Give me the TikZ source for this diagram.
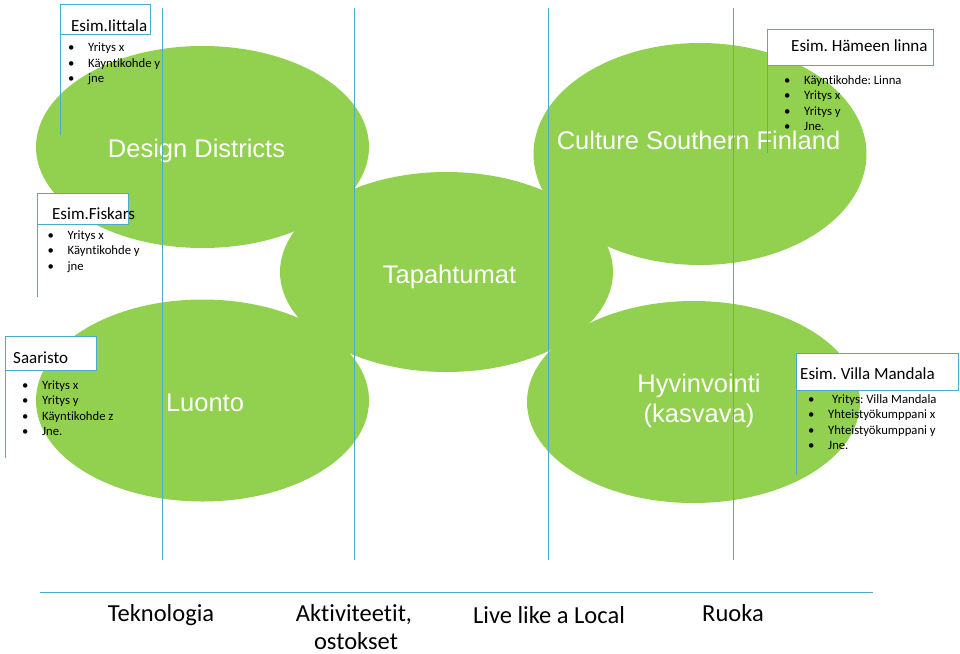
\documentclass[tikz,border=0pt]{standalone}
\usepackage{fontspec}
\setmainfont{Carlito}[Ligatures=NoCommon]
\newfontfamily\arialf{Liberation Sans}
\usetikzlibrary{shapes.geometric}
\definecolor{leaf}{RGB}{146,208,80}
\definecolor{guide}{RGB}{75,172,198}
\newcommand\bulletlist[1]{\begin{tabular}[t]{@{}p{20pt}@{}l@{}}#1\end{tabular}}
\frenchspacing
\begin{document}
\begin{tikzpicture}[x=1pt,y=-1pt,
  blob/.style={ellipse,fill=leaf,inner sep=0,minimum width=333pt,minimum height=202pt},
  blobtext/.style={anchor=base,text=white,font=\arialf\fontsize{25.5}{30}\selectfont,inner sep=0},
  guideline/.style={draw=guide,line width=1pt},
  titlebox/.style={draw=guide,line width=1pt,fill=white,anchor=north west,inner sep=0},
  titletext/.style={anchor=base west,inner sep=0,font=\fontsize{17}{20}\selectfont},
  bullets/.style={anchor=base west,inner sep=0,font=\fontsize{12.7}{15.5}\selectfont},
  bottomtext/.style={anchor=base,inner sep=0,font=\fontsize{24.5}{29}\selectfont}]
\useasboundingbox (0,0) rectangle (960,653);
\fill[white] (0,0) rectangle (960,653);

% green ellipses
\node[blob] (dd) at (202.5,147) {};
\node[blob,minimum height=222pt] (csf) at (700,154) {};
\node[blob,minimum height=200pt] (tap) at (446.5,272) {};
\node[blob] (luo) at (202.5,400.5) {};
\node[blob] (hyv) at (693.5,402) {};

% ellipse labels
\node[blobtext] (ddt) at (196.5,157.7) {Design Districts};
\node[blobtext] (csft) at (698.5,149.3) {Culture Southern Finland};
\node[blobtext] (tapt) at (449.5,283.3) {Tapahtumat};
\node[blobtext] (luot) at (205,411) {Luonto};
\node[blobtext] (hyvt1) at (699,392.3) {Hyvinvointi};
\node[blobtext] (hyvt2) at (699,422.7) {(kasvava)};

% long guide lines
\coordinate (g1a) at (162,8);   \coordinate (g1b) at (162,560);
\coordinate (g2a) at (354,8);   \coordinate (g2b) at (354,560);
\coordinate (g3a) at (548,8);   \coordinate (g3b) at (548,560);
\coordinate (g4a) at (733,8);   \coordinate (g4b) at (733,560);
\draw[guideline] (g1a) -- (g1b);
\draw[guideline] (g2a) -- (g2b);
\draw[guideline] (g3a) -- (g3b);
\draw[guideline] (g4a) -- (g4b);

% Iittala
\node[titlebox,minimum width=90pt,minimum height=30pt] (iibox) at (60,4) {};
\coordinate (iiend) at (60,135);
\draw[guideline] (iibox.south west) -- (iiend);
\node[titletext] (iit) at (71,31.5) {Esim.Iittala};
\node[bullets] (iil) at (68,51.5) {\bulletlist{• & Yritys x\\ • & Käyntikohde y\\ • & jne}};

% Hameen linna
\node[titlebox,minimum width=166pt,minimum height=36pt] (hlbox) at (767,29) {};
\coordinate (hlend) at (767,153);
\draw[guideline] (hlbox.south west) -- (hlend);
\node[titletext] (hlt) at (791,51) {Esim. Hämeen linna};
\node[bullets] (hll) at (784,84) {\bulletlist{• & Käyntikohde: Linna\\ • & Yritys x\\ • & Yritys y\\ • & Jne.}};

% Fiskars
\node[titlebox,minimum width=91pt,minimum height=31pt] (fibox) at (37,193) {};
\coordinate (fiend) at (37,297);
\draw[guideline] (fibox.south west) -- (fiend);
\node[titletext] (fit) at (52,219) {Esim.Fiskars};
\node[bullets] (fil) at (47.5,239) {\bulletlist{• & Yritys x\\ • & Käyntikohde y\\ • & jne}};

% Saaristo
\node[titlebox,minimum width=91pt,minimum height=34pt] (sabox) at (5,336) {};
\coordinate (saend) at (5,458);
\draw[guideline] (sabox.south west) -- (saend);
\node[titletext] (sat) at (13,363) {Saaristo};
\node[bullets] (sal) at (22,389.3) {\bulletlist{• & Yritys x\\ • & Yritys y\\ • & Käyntikohde z\\ • & Jne.}};

% Villa Mandala
\node[titlebox,minimum width=162pt,minimum height=37pt] (vmbox) at (796,353) {};
\coordinate (vmend) at (796,475);
\draw[guideline] (vmbox.south west) -- (vmend);
\node[titletext] (vmt) at (800,379) {Esim. Villa Mandala};
\node[bullets] (vml) at (808,403.3) {\bulletlist{• & \hspace{4pt}Yritys: Villa Mandala\\ • & Yhteistyökumppani x\\ • & Yhteistyökumppani y\\ • & Jne.}};

% bottom line and labels
\coordinate (hla) at (40,592); \coordinate (hlb) at (873,592);
\draw[guideline] (hla) -- (hlb);
\node[bottomtext] (tek) at (161,621) {Teknologia};
\node[bottomtext] (akt1) at (354,621) {Aktiviteetit,};
\node[bottomtext] (akt2) at (356,649.5) {ostokset};
\node[bottomtext] (live) at (549,623) {Live like a Local};
\node[bottomtext] (ruo) at (733,621) {Ruoka};
\end{tikzpicture}
\end{document}
